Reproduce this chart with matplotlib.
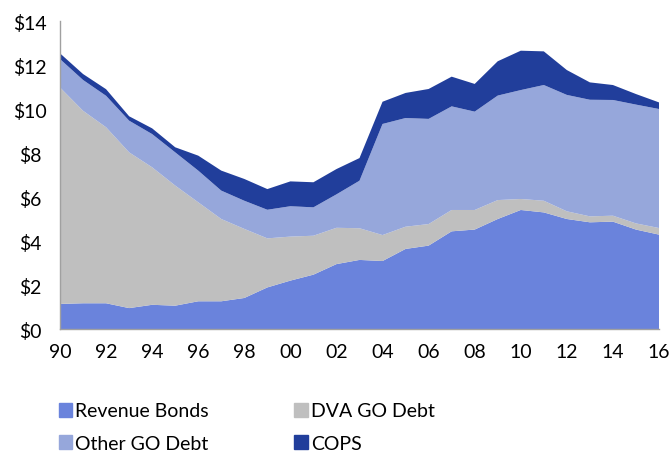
import matplotlib
matplotlib.use("Agg")
from matplotlib import pyplot as plt
from matplotlib.patches import Patch

years = list(range(1990, 2017))
revenue_bonds = [1.14, 1.17, 1.17, 0.95, 1.10, 1.06, 1.26, 1.26, 1.41, 1.89, 2.20, 2.47, 2.95, 3.14,
                 3.09, 3.64, 3.79, 4.44, 4.52, 5.00, 5.41, 5.30, 5.00, 4.85, 4.88, 4.52, 4.29]
dva_go_debt = [9.84, 8.75, 8.00, 7.08, 6.25, 5.46, 4.50, 3.74, 3.14, 2.23, 2.00, 1.77, 1.65, 1.44,
               1.18, 1.01, 0.98, 0.97, 0.89, 0.86, 0.50, 0.53, 0.35, 0.27, 0.27, 0.28, 0.30]
other_go_debt = [1.29, 1.40, 1.43, 1.44, 1.51, 1.51, 1.44, 1.29, 1.28, 1.30, 1.38, 1.29, 1.52, 2.16,
                 5.05, 4.94, 4.78, 4.71, 4.47, 4.75, 4.95, 5.26, 5.29, 5.30, 5.26, 5.40, 5.41]
cops = [0.26, 0.27, 0.30, 0.20, 0.26, 0.23, 0.68, 0.91, 0.99, 0.94, 1.13, 1.14, 1.15, 1.03,
        1.01, 1.14, 1.36, 1.35, 1.26, 1.56, 1.79, 1.53, 1.13, 0.79, 0.68, 0.48, 0.30]

labels = ["Revenue Bonds", "DVA GO Debt", "Other GO Debt", "COPS"]
colors = ["#6a83dc", "#bfbfbf", "#96a7db", "#213e9b"]
tick_years = years[::2]
tick_labels = ["%02d" % (y % 100) for y in tick_years]

plt.rcParams['font.family'] = ['Lato', 'DejaVu Sans']

fig = plt.figure(figsize=(6.71, 4.52), dpi=100)
ax = fig.add_axes([60 / 671, 1 - 330 / 452, 599 / 671, 308 / 452])
ax.stackplot(years, revenue_bonds, dva_go_debt, other_go_debt, cops,
             colors=colors, linewidth=0)
ax.set_xlim(1990, 2016)
ax.set_ylim(0, 14)
ax.set_yticks(range(0, 15, 2))
ax.set_yticklabels(["$%d" % v for v in range(0, 15, 2)])
ax.set_xticks(tick_years)
ax.set_xticklabels(tick_labels)
ax.tick_params(length=0, labelsize=14, colors="black")
ax.tick_params(axis="x", pad=10)
# y labels are centred around x=30px in the original
ax.tick_params(axis="y", pad=21.6)
for lbl in ax.get_yticklabels():
    lbl.set_ha("center")
for s in ["top", "right"]:
    ax.spines[s].set_visible(False)
for s in ["left", "bottom"]:
    ax.spines[s].set_color("#a0a0a0")
    ax.spines[s].set_linewidth(1)

handles = [Patch(color=c, label=l) for c, l in zip(colors, labels)]
order = [0, 2, 1, 3]
fig.legend([handles[i] for i in order], [labels[i] for i in order],
           ncol=2, loc="upper left", bbox_to_anchor=(41 / 671, 1 - 386 / 452),
           frameon=False, fontsize=14, handlelength=0.7, handleheight=0.7,
           handletextpad=0.15, columnspacing=4.4, labelspacing=0.8)

fig.savefig("out.png", dpi=100)
